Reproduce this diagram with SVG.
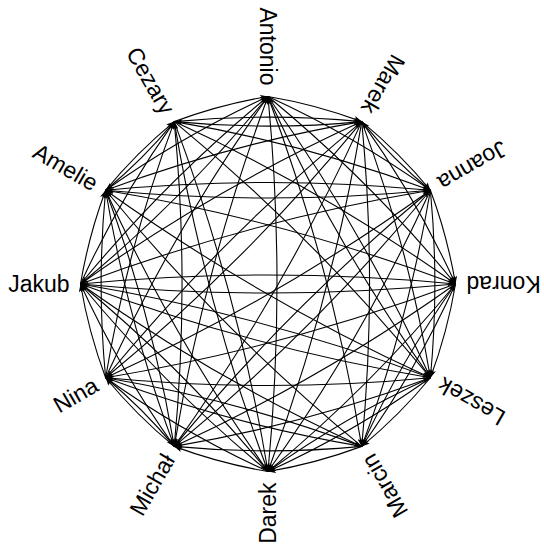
<svg xmlns="http://www.w3.org/2000/svg" width="544" height="546" viewBox="0 0 544 546">
<style>
.e{fill:none;stroke:#000;stroke-width:1.1;marker-end:url(#ah)}
.lb{font-family:"Liberation Sans",Arial,Helvetica,sans-serif;font-size:23px;fill:#000;text-anchor:end;dominant-baseline:central}
</style>
<defs>
<marker id="ah" markerUnits="userSpaceOnUse" markerWidth="8" markerHeight="6" viewBox="0 0 8 6" refX="8" refY="3" orient="auto">
<path d="M0,0 L8,3 L0,6 L2,3 z" fill="#000"/>
</marker>
</defs>
<rect width="544" height="546" fill="#fff"/>
<g id="connectors">
<g id="from-Antonio">
<path class="e" d="M268,96.5 Q316.08,104.56 361.75,121.62"/>
<path class="e" d="M268,96.5 Q353.69,135.58 430.38,190.25"/>
<path class="e" d="M268,96.5 Q370.75,181.25 455.5,284"/>
<path class="e" d="M268,96.5 Q362.69,229.33 430.38,377.75"/>
<path class="e" d="M268,96.5 Q331.67,266.94 361.75,446.38"/>
<path class="e" d="M268,96.5 Q286,284 268,471.5"/>
<path class="e" d="M268,96.5 Q183.25,199.25 80.5,284"/>
</g>
<g id="from-Marek" transform="rotate(30 268 284)">
<path class="e" d="M268,96.5 Q316.08,104.56 361.75,121.62"/>
<path class="e" d="M268,96.5 Q353.69,135.58 430.38,190.25"/>
<path class="e" d="M268,96.5 Q370.75,181.25 455.5,284"/>
<path class="e" d="M268,96.5 Q362.69,229.33 430.38,377.75"/>
<path class="e" d="M268,96.5 Q331.67,266.94 361.75,446.38"/>
<path class="e" d="M268,96.5 Q286,284 268,471.5"/>
<path class="e" d="M268,96.5 Q237.92,275.94 174.25,446.38"/>
<path class="e" d="M268,96.5 Q191.31,151.17 105.62,190.25"/>
</g>
<g id="from-Joanna" transform="rotate(60 268 284)">
<path class="e" d="M268,96.5 Q316.08,104.56 361.75,121.62"/>
<path class="e" d="M268,96.5 Q353.69,135.58 430.38,190.25"/>
<path class="e" d="M268,96.5 Q370.75,181.25 455.5,284"/>
<path class="e" d="M268,96.5 Q362.69,229.33 430.38,377.75"/>
<path class="e" d="M268,96.5 Q331.67,266.94 361.75,446.38"/>
<path class="e" d="M268,96.5 Q286,284 268,471.5"/>
<path class="e" d="M268,96.5 Q200.31,244.92 105.62,377.75"/>
<path class="e" d="M268,96.5 Q222.33,113.56 174.25,121.62"/>
</g>
<g id="from-Konrad" transform="rotate(90 268 284)">
<path class="e" d="M268,96.5 Q316.08,104.56 361.75,121.62"/>
<path class="e" d="M268,96.5 Q353.69,135.58 430.38,190.25"/>
<path class="e" d="M268,96.5 Q370.75,181.25 455.5,284"/>
<path class="e" d="M268,96.5 Q362.69,229.33 430.38,377.75"/>
<path class="e" d="M268,96.5 Q331.67,266.94 361.75,446.38"/>
<path class="e" d="M268,96.5 Q286,284 268,471.5"/>
</g>
<g id="from-Leszek" transform="rotate(120 268 284)">
<path class="e" d="M268,96.5 Q316.08,104.56 361.75,121.62"/>
<path class="e" d="M268,96.5 Q353.69,135.58 430.38,190.25"/>
<path class="e" d="M268,96.5 Q370.75,181.25 455.5,284"/>
<path class="e" d="M268,96.5 Q362.69,229.33 430.38,377.75"/>
<path class="e" d="M268,96.5 Q331.67,266.94 361.75,446.38"/>
<path class="e" d="M268,96.5 Q286,284 268,471.5"/>
<path class="e" d="M268,96.5 Q200.31,244.92 105.62,377.75"/>
</g>
<g id="from-Marcin" transform="rotate(150 268 284)">
<path class="e" d="M268,96.5 Q316.08,104.56 361.75,121.62"/>
<path class="e" d="M268,96.5 Q353.69,135.58 430.38,190.25"/>
<path class="e" d="M268,96.5 Q370.75,181.25 455.5,284"/>
<path class="e" d="M268,96.5 Q362.69,229.33 430.38,377.75"/>
<path class="e" d="M268,96.5 Q331.67,266.94 361.75,446.38"/>
<path class="e" d="M268,96.5 Q191.31,151.17 105.62,190.25"/>
</g>
<g id="from-Darek" transform="rotate(180 268 284)">
<path class="e" d="M268,96.5 Q316.08,104.56 361.75,121.62"/>
<path class="e" d="M268,96.5 Q353.69,135.58 430.38,190.25"/>
<path class="e" d="M268,96.5 Q370.75,181.25 455.5,284"/>
<path class="e" d="M268,96.5 Q362.69,229.33 430.38,377.75"/>
<path class="e" d="M268,96.5 Q331.67,266.94 361.75,446.38"/>
<path class="e" d="M268,96.5 Q191.31,151.17 105.62,190.25"/>
</g>
<g id="from-Michal" transform="rotate(210 268 284)">
<path class="e" d="M268,96.5 Q316.08,104.56 361.75,121.62"/>
<path class="e" d="M268,96.5 Q353.69,135.58 430.38,190.25"/>
<path class="e" d="M268,96.5 Q370.75,181.25 455.5,284"/>
<path class="e" d="M268,96.5 Q331.67,266.94 361.75,446.38"/>
<path class="e" d="M268,96.5 Q237.92,275.94 174.25,446.38"/>
</g>
<g id="from-Nina" transform="rotate(240 268 284)">
<path class="e" d="M268,96.5 Q316.08,104.56 361.75,121.62"/>
<path class="e" d="M268,96.5 Q353.69,135.58 430.38,190.25"/>
<path class="e" d="M268,96.5 Q370.75,181.25 455.5,284"/>
<path class="e" d="M268,96.5 Q362.69,229.33 430.38,377.75"/>
<path class="e" d="M268,96.5 Q331.67,266.94 361.75,446.38"/>
<path class="e" d="M268,96.5 Q183.25,199.25 80.5,284"/>
<path class="e" d="M268,96.5 Q222.33,113.56 174.25,121.62"/>
</g>
<g id="from-Jakub" transform="rotate(270 268 284)">
<path class="e" d="M268,96.5 Q316.08,104.56 361.75,121.62"/>
<path class="e" d="M268,96.5 Q353.69,135.58 430.38,190.25"/>
<path class="e" d="M268,96.5 Q370.75,181.25 455.5,284"/>
<path class="e" d="M268,96.5 Q362.69,229.33 430.38,377.75"/>
<path class="e" d="M268,96.5 Q331.67,266.94 361.75,446.38"/>
<path class="e" d="M268,96.5 Q286,284 268,471.5"/>
<path class="e" d="M268,96.5 Q237.92,275.94 174.25,446.38"/>
<path class="e" d="M268,96.5 Q183.25,199.25 80.5,284"/>
</g>
<g id="from-Amelie" transform="rotate(300 268 284)">
<path class="e" d="M268,96.5 Q316.08,104.56 361.75,121.62"/>
<path class="e" d="M268,96.5 Q353.69,135.58 430.38,190.25"/>
<path class="e" d="M268,96.5 Q370.75,181.25 455.5,284"/>
<path class="e" d="M268,96.5 Q362.69,229.33 430.38,377.75"/>
<path class="e" d="M268,96.5 Q331.67,266.94 361.75,446.38"/>
<path class="e" d="M268,96.5 Q183.25,199.25 80.5,284"/>
</g>
<g id="from-Cezary" transform="rotate(330 268 284)">
<path class="e" d="M268,96.5 Q316.08,104.56 361.75,121.62"/>
<path class="e" d="M268,96.5 Q353.69,135.58 430.38,190.25"/>
<path class="e" d="M268,96.5 Q370.75,181.25 455.5,284"/>
<path class="e" d="M268,96.5 Q362.69,229.33 430.38,377.75"/>
<path class="e" d="M268,96.5 Q331.67,266.94 361.75,446.38"/>
<path class="e" d="M268,96.5 Q237.92,275.94 174.25,446.38"/>
<path class="e" d="M268,96.5 Q200.31,244.92 105.62,377.75"/>
<path class="e" d="M268,96.5 Q222.33,113.56 174.25,121.62"/>
</g>
</g>
<g id="node-Antonio"><text class="lb" transform="translate(268,85.5) rotate(90)">Antonio</text></g>
<g id="node-Marek"><text class="lb" transform="translate(367.25,112.1) rotate(120)">Marek</text></g>
<g id="node-Joanna"><text class="lb" transform="translate(439.9,184.75) rotate(150)">Joanna</text></g>
<g id="node-Konrad"><text class="lb" transform="translate(466.5,284) rotate(180)">Konrad</text></g>
<g id="node-Leszek"><text class="lb" transform="translate(439.9,383.25) rotate(210)">Leszek</text></g>
<g id="node-Marcin"><text class="lb" transform="translate(367.25,455.9) rotate(240)">Marcin</text></g>
<g id="node-Darek"><text class="lb" transform="translate(268,482.5) rotate(270)">Darek</text></g>
<g id="node-Michal"><text class="lb" transform="translate(168.75,455.9) rotate(300)">Michał</text></g>
<g id="node-Nina"><text class="lb" transform="translate(96.1,383.25) rotate(330)">Nina</text></g>
<g id="node-Jakub"><text class="lb" transform="translate(69.5,284)">Jakub</text></g>
<g id="node-Amelie"><text class="lb" transform="translate(96.1,184.75) rotate(30)">Amelie</text></g>
<g id="node-Cezary"><text class="lb" transform="translate(168.75,112.1) rotate(60)">Cezary</text></g>
</svg>
